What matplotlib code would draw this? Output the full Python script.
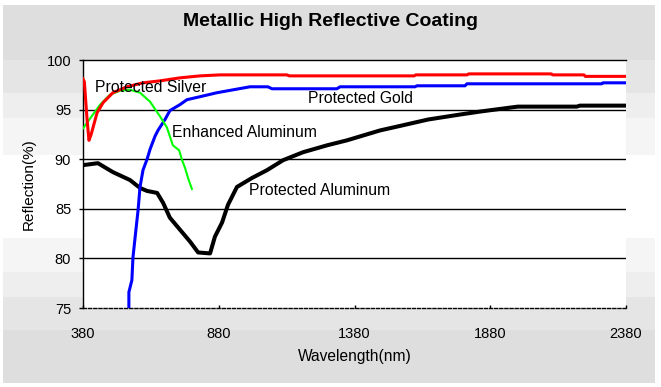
import matplotlib
matplotlib.use("Agg")
import matplotlib.pyplot as plt
from matplotlib.patches import Rectangle

# data (wavelength nm, reflection %)
silver_nm = [380, 385, 395, 402, 410, 417, 432, 454, 490, 542, 601, 664, 737, 811, 885,
             1131, 1140, 1437, 1600, 1606, 1795, 1800, 2105, 2110, 2225, 2230, 2380]
silver_r = [98.1, 97.8, 94.0, 91.9, 92.5, 93.2, 94.7, 95.7, 96.7, 97.3, 97.7, 97.9, 98.2, 98.4, 98.5,
            98.5, 98.4, 98.4, 98.4, 98.5, 98.5, 98.6, 98.6, 98.5, 98.5, 98.35, 98.35]

gold_nm = [549, 549, 560, 564, 575, 583, 590, 601, 616, 627, 645, 656, 682, 700, 737, 763, 811,
           873, 995, 1061, 1076, 1315, 1327, 1603, 1610, 1787, 1794, 2291, 2295, 2380]
gold_r = [75.0, 76.6, 77.8, 80.1, 82.9, 84.9, 87.2, 88.9, 90.0, 91.0, 92.3, 92.9, 94.0, 94.9, 95.5,
          96.0, 96.3, 96.7, 97.3, 97.3, 97.1, 97.1, 97.3, 97.3, 97.4, 97.4, 97.6, 97.6, 97.7, 97.7]

enh_al_nm = [380, 406, 443, 479, 516, 553, 590, 627, 664, 689, 711, 734, 745, 756, 767, 781]
enh_al_r = [93.1, 94.1, 95.5, 96.5, 96.9, 97.0, 96.7, 95.8, 94.3, 93.2, 91.4, 90.9, 89.9, 89.1, 88.1, 87.0]

prot_al_nm = [380, 435, 490, 553, 590, 616, 653, 675, 700, 737, 774, 804, 848, 866, 892, 914, 947,
              1002, 1058, 1117, 1190, 1279, 1352, 1474, 1555, 1651, 1768, 1842, 1953, 1982, 2199,
              2210, 2380]
prot_al_r = [89.4, 89.6, 88.7, 87.9, 87.1, 86.8, 86.6, 85.6, 84.1, 82.9, 81.7, 80.6, 80.5, 82.2,
             83.6, 85.4, 87.2, 88.1, 88.9, 89.9, 90.7, 91.4, 91.9, 92.9, 93.4, 94.0, 94.5, 94.8,
             95.2, 95.3, 95.3, 95.4, 95.4]

x_ticks = [380, 880, 1380, 1880, 2380]
y_ticks = [75, 80, 85, 90, 95, 100]

W, H = 661, 387
plt.rcParams['font.family'] = ['Liberation Sans', 'DejaVu Sans']

fig = plt.figure(figsize=(W / 100, H / 100), dpi=100)
fig.patch.set_facecolor('white')

# banded grey panel behind everything (pixel coords)
bg = fig.add_axes([0, 0, 1, 1], zorder=-1)
bg.set_xlim(0, W)
bg.set_ylim(H, 0)
bg.axis('off')
bands = [(5, 60, '#dedede'), (60, 93, '#e5e5e5'), (93, 118, '#eeeeee'), (118, 155, '#f5f5f5'),
         (155, 238, '#ffffff'), (238, 272, '#f5f5f5'), (272, 297, '#eeeeee'),
         (297, 330, '#e5e5e5'), (330, 383, '#dedede')]
for y0, y1, c in bands:
    bg.add_patch(Rectangle((3, y0), 652, y1 - y0, facecolor=c, lw=0))

ax = fig.add_axes([83 / W, 1 - 308 / H, (626 - 83) / W, (308 - 60) / H])
ax.set_facecolor('white')

ax.plot(prot_al_nm, prot_al_r, color='black', lw=2.9, zorder=3)
ax.plot(gold_nm, gold_r, color='#0000ff', lw=2.2, zorder=4)
ax.plot(enh_al_nm, enh_al_r, color='#00ff00', lw=1.5, zorder=5)
ax.plot(silver_nm, silver_r, color='#ff0000', lw=2.2, zorder=6)

ax.set_xlim(380, 2380)
ax.set_ylim(75, 100)
ax.set_xticks(x_ticks)
ax.set_yticks(y_ticks)

# horizontal grid
for y in y_ticks[1:-1]:
    ax.axhline(y, color='black', lw=1, zorder=2)

ax.spines['right'].set_visible(False)
ax.spines['top'].set_linewidth(1)
ax.spines['left'].set_linewidth(1)
ax.spines['bottom'].set_linewidth(1)
ax.spines['bottom'].set_linestyle((0, (2.2, 1.5)))

ax.tick_params(axis='y', direction='out', length=3, width=1, pad=5.5, labelsize=10.5)
ax.tick_params(axis='x', direction='in', length=2.5, width=1, pad=13.5, labelsize=10.5)

ax.text(424, 97.18, "Protected Silver", fontsize=11.3, va='center', zorder=7)
ax.text(1209, 96.07, "Protected Gold", fontsize=11.3, va='center', zorder=7)
ax.text(708, 92.74, "Enhanced Aluminum", fontsize=11.3, va='center', zorder=7)
ax.text(991, 86.8, "Protected Aluminum", fontsize=11.3, va='center', zorder=7)

fig.text(330.5 / W, 1 - 22 / H, "Metallic High Reflective Coating", fontsize=14,
         fontweight='bold', ha='center', va='center')
fig.text(354.5 / W, 1 - 357 / H, "Wavelength(nm)", fontsize=11.2, ha='center', va='center')
fig.text(29 / W, 1 - 184 / H, "Reflection(%)", fontsize=11, rotation=90,
         ha='center', va='center')

fig.savefig("out.png", dpi=100)
